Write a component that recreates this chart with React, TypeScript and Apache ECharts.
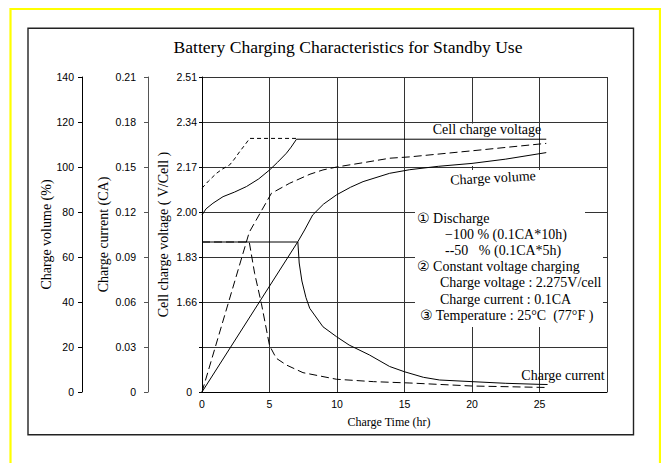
import React, { useEffect, useRef } from "react";
import * as echarts from "echarts";

const TITLE = "Battery Charging Characteristics for Standby Use";
const X_LABEL = "Charge Time (hr)";
const X_MAX = 30;
const X_STEP = 5;

// Voltage axis is drawn as 7 equal bands; labels
const VOLT_LABELS = ["0", "", "1.66", "1.83", "2.00", "2.17", "2.34", "2.51"];
const VOLT_BASE = 1.32;
const VOLT_STEP = 0.17;

// Cell charge voltage (V/cell)
const voltSolidT = [0, 0.3, 0.81, 1.56, 2.4, 3.29, 4.2, 5.01, 5.6, 6.25, 6.6, 7.0, 25.5];
const voltSolidV = [1.989, 2.012, 2.033, 2.058, 2.075, 2.096, 2.125, 2.159, 2.188, 2.222, 2.245, 2.275, 2.275];
const voltDashT = [0, 0.5, 1.07, 1.5, 2.05, 2.4, 2.79, 3.2, 3.53, 7.0];
const voltDashV = [2.09, 2.118, 2.146, 2.162, 2.178, 2.2, 2.228, 2.255, 2.278, 2.278];

// Charge volume (%)
const volSolidT = [0, 7.1, 7.6, 8.2, 9.0, 9.96, 11.0, 11.93, 13.9, 15.39, 17.5, 20, 22.5, 25.5];
const volSolidV = [0, 66.8, 72, 78.7, 83.5, 87.6, 91, 93.5, 97.2, 98.8, 100.3, 101.6, 103.5, 106.4];
const volDashT = [0, 3.5, 5.14, 6.5, 8.0, 8.96, 10.07, 11.93, 13.9, 15.39, 20, 25.5];
const volDashV = [0, 71, 88.3, 92.8, 96.8, 98.7, 100.1, 101.9, 103.9, 104.5, 107.2, 110.5];

// Charge current (CA)
const curSolidT = [0, 7.1, 7.2, 7.4, 7.7, 7.98, 8.96, 9.96, 10.9, 12.4, 13.9, 15.0, 16.4, 17.6, 20, 22.5, 25, 25.6];
const curSolidV = [0.1, 0.1, 0.086, 0.074, 0.063, 0.0558, 0.0435, 0.0369, 0.0313, 0.0247, 0.017, 0.0135, 0.0098, 0.008, 0.0069, 0.0058, 0.0051, 0.005];
const curDashT = [0, 3.5, 3.9, 4.4, 5.0, 5.5, 6.25, 7.48, 9.96, 12.7, 15.4, 20, 25, 25.6];
const curDashV = [0.1, 0.1, 0.079, 0.059, 0.031, 0.0225, 0.018, 0.0129, 0.0085, 0.0069, 0.006, 0.004, 0.0031, 0.003];

const NOTE_LINES = [
  "① Discharge",
  "−100 % (0.1CA*10h)",
  "--50   % (0.1CA*5h)",
  "② Constant voltage charging",
  "Charge voltage : 2.275V/cell",
  "Charge current : 0.1CA",
  "③ Temperature : 25°C  (77°F )",
];

const SERIF = '"Liberation Serif", "Times New Roman", "DejaVu Serif", serif';
const SANS = '"Liberation Sans", Arial, sans-serif';

const zip = (t: number[], v: number[]) => t.map((x, i) => [x, v[i]]);
const toVoltIndex = (v: number) => (v - VOLT_BASE) / VOLT_STEP;

export default function App() {
  const ref = useRef<HTMLDivElement>(null);
  useEffect(() => {
    if (!ref.current) return;
    const chart = echarts.init(ref.current, null, { renderer: "svg" });
    const lineBase = (name: string, yAxisIndex: number, data: number[][], dash: any) => ({
      name,
      type: "line",
      yAxisIndex,
      data,
      symbol: "none",
      silent: true,
      z: 2,
      lineStyle: { color: "#000", width: 1, type: dash },
    });
    const axisLabelStyle = { fontFamily: SANS, fontSize: 10.5, color: "#000" };
    const nameStyle = { fontFamily: SERIF, fontSize: 14, color: "#000" };
    const noteX = [417, 445, 445, 417, 440, 440, 420];
    const noteY0 = 218;
    const option: any = {
      animation: false,
      backgroundColor: "#fff",
      grid: { left: 202, top: 77, right: 54, bottom: 71, containLabel: false },
      xAxis: {
        type: "value",
        min: 0,
        max: X_MAX,
        interval: X_STEP,
        axisLine: { show: true, lineStyle: { color: "#000", width: 1 } },
        axisTick: { show: false },
        axisLabel: {
          ...axisLabelStyle,
          margin: 6,
          formatter: (v: number) => (v === X_MAX ? "" : String(v)),
        },
        splitLine: { show: true, lineStyle: { color: "#333", width: 1 } },
      },
      yAxis: [
        {
          type: "value",
          position: "left",
          min: 0,
          max: VOLT_LABELS.length - 1,
          interval: 1,
          axisLine: { show: true, onZero: false, lineStyle: { color: "#000" } },
          axisTick: { show: true, length: 3, lineStyle: { color: "#000" } },
          axisLabel: {
            ...axisLabelStyle,
            margin: 5,
            formatter: (v: number) => (v === 0 ? "{z|0}" : VOLT_LABELS[Math.round(v)] || ""),
            rich: { z: { ...axisLabelStyle, padding: [0, 5, 0, 0] } },
          },
          splitLine: { show: true, lineStyle: { color: "#333", width: 1 } },
          name: "Cell charge voltage ( V/Cell )",
          nameLocation: "middle",
          nameRotate: 90,
          nameGap: 32,
          nameMoveOverlap: false,
          nameTextStyle: nameStyle,
        },
        {
          type: "value",
          position: "left",
          offset: 54,
          min: 0,
          max: 0.21,
          interval: 0.03,
          axisLine: { show: true, onZero: false, lineStyle: { color: "#555" } },
          axisTick: { show: true, length: 4, lineStyle: { color: "#555" } },
          axisLabel: {
            ...axisLabelStyle,
            margin: 12,
            formatter: (v: number) => (v === 0 ? "0" : v.toFixed(2)),
          },
          splitLine: { show: false },
          name: "Charge current (CA)",
          nameLocation: "middle",
          nameRotate: 90,
          nameGap: 38,
          nameMoveOverlap: false,
          nameTextStyle: nameStyle,
        },
        {
          type: "value",
          position: "left",
          offset: 120,
          min: 0,
          max: 140,
          interval: 20,
          axisLine: { show: true, onZero: false, lineStyle: { color: "#000" } },
          axisTick: { show: true, length: 4, lineStyle: { color: "#000" } },
          axisLabel: { ...axisLabelStyle, margin: 8 },
          splitLine: { show: false },
          name: "Charge volume (%)",
          nameLocation: "middle",
          nameRotate: 90,
          nameGap: 29,
          nameMoveOverlap: false,
          nameTextStyle: nameStyle,
        },
      ],
      series: [
        lineBase("Voltage 100%", 0, voltSolidT.map((t, i) => [t, toVoltIndex(voltSolidV[i])]), "solid"),
        lineBase("Voltage 50%", 0, voltDashT.map((t, i) => [t, toVoltIndex(voltDashV[i])]), [4, 3]),
        lineBase("Volume 100%", 2, zip(volSolidT, volSolidV), "solid"),
        lineBase("Volume 50%", 2, zip(volDashT, volDashV), [8, 4]),
        lineBase("Current 100%", 1, zip(curSolidT, curSolidV), "solid"),
        lineBase("Current 50%", 1, zip(curDashT, curDashV), [8, 4]),
      ],
      graphic: [
        { type: "rect", z: 20, silent: true, shape: { x: 10.5, y: 9, width: 649.5, height: 480 }, style: { fill: "none", stroke: "#ffff00", lineWidth: 2.2 } },
        { type: "rect", z: 20, silent: true, shape: { x: 28, y: 28.3, width: 605.5, height: 406.5 }, style: { fill: "none", stroke: "#222", lineWidth: 1.4 } },
        // white masks hiding grid lines behind the notes
        { type: "rect", z: 1, silent: true, shape: { x: 415, y: 170, width: 170, height: 157 }, style: { fill: "#fff" } },
        { type: "rect", z: 1, silent: true, shape: { x: 585, y: 232, width: 18, height: 95 }, style: { fill: "#fff" } },
        { type: "rect", z: 1, silent: true, shape: { x: 469, y: 123.5, width: 6, height: 42.5 }, style: { fill: "#fff" } },
        {
          type: "text", z: 30, silent: true, x: 348, y: 47,
          style: { text: TITLE, fill: "#000", fontFamily: SERIF, fontSize: 17.6, align: "center", verticalAlign: "middle" },
        },
        {
          type: "text", z: 30, silent: true, x: 389, y: 422,
          style: { text: X_LABEL, fill: "#000", fontFamily: SERIF, fontSize: 12, align: "center", verticalAlign: "middle" },
        },
        {
          type: "text", z: 30, silent: true, x: 487, y: 129,
          style: { text: "Cell charge voltage", fill: "#000", fontFamily: SERIF, fontSize: 14, align: "center", verticalAlign: "middle" },
        },
        {
          type: "text", z: 30, silent: true, x: 493, y: 178, rotation: 0.055,
          style: { text: "Charge volume", fill: "#000", fontFamily: SERIF, fontSize: 14, align: "center", verticalAlign: "middle" },
        },
        {
          type: "text", z: 30, silent: true, x: 563, y: 375,
          style: { text: "Charge current", fill: "#000", fontFamily: SERIF, fontSize: 14, align: "center", verticalAlign: "middle" },
        },
        ...NOTE_LINES.map((line, i) => ({
          type: "text", z: 30, silent: true, x: noteX[i], y: noteY0 + i * 16.2,
          style: { text: line, fill: "#000", fontFamily: SERIF + ', "DejaVu Sans"', fontSize: 14, align: "left", verticalAlign: "middle" },
        })),
      ],
    };
    chart.setOption(option);
    return () => chart.dispose();
  }, []);
  return (
    <div
      ref={ref}
      style={{ position: "fixed", left: 0, top: 0, width: 661, height: 463, background: "#fff" }}
    />
  );
}
